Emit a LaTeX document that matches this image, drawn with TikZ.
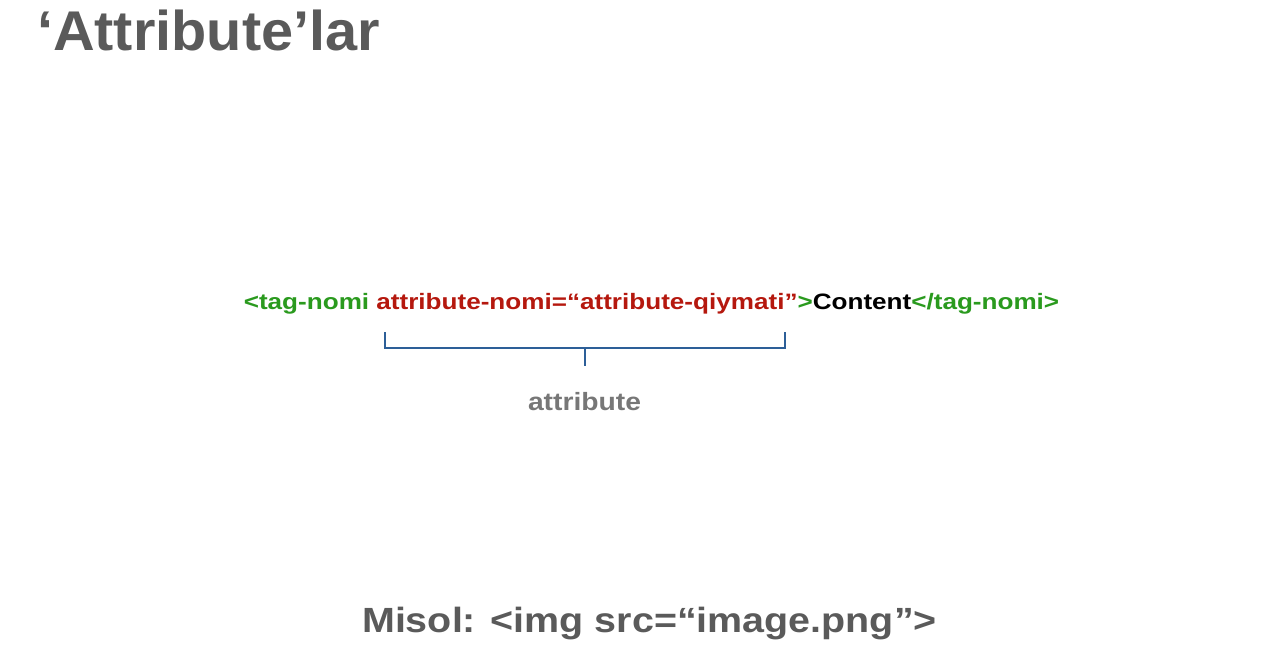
\documentclass[tikz,border=0pt]{standalone}
\usepackage{fontspec}
\setmainfont{Liberation Sans}
\definecolor{titlegray}{HTML}{5A5A5A}
\definecolor{taggreen}{HTML}{2A9A1E}
\definecolor{attrred}{HTML}{B5180E}
\definecolor{bracketblue}{HTML}{2D5F98}
\definecolor{labelgray}{HTML}{777777}
\tikzset{
  txt/.style={inner sep=0pt, outer sep=0pt, font=\bfseries},
  bracket/.style={draw=bracketblue, line width=1.8pt}
}
\begin{document}
\begin{tikzpicture}[x=1pt,y=-1pt]
\useasboundingbox (0,0) rectangle (1280,665);
\node[txt, anchor=base west, text=titlegray, font=\fontsize{56}{60}\selectfont\bfseries] (title) at (37,50)
  {\scalebox{1.03}[1]{‘Attribute’lar}};
\node[txt, anchor=base, font=\fontsize{22.3}{26}\selectfont\bfseries] (code) at (651.5,309)
  {\scalebox{1.17}[1]{\textcolor{taggreen}{<tag-nomi }\textcolor{attrred}{attribute-nomi=“attribute-qiymati”}\textcolor{taggreen}{>}Content\textcolor{taggreen}{</tag-nomi>}}};
\coordinate (bl) at (385,332);
\coordinate (blc) at (385,348);
\coordinate (brc) at (785,348);
\coordinate (br) at (785,332);
\coordinate (bm) at (585,348);
\coordinate (bt) at (585,366);
\draw[bracket] (bl) -- (blc) -- (brc) -- (br);
\draw[bracket] (bm) -- (bt);
\node[txt, anchor=base, text=labelgray, font=\fontsize{25}{29}\selectfont\bfseries] (attr) at (584.5,410)
  {\scalebox{1.13}[1]{attribute}};
\node[txt, anchor=base, text=titlegray, font=\fontsize{35}{40}\selectfont\bfseries] (ex) at (649.5,632)
  {\scalebox{1.127}[1]{Misol: <img src=“image.png”>}};
\end{tikzpicture}
\end{document}
